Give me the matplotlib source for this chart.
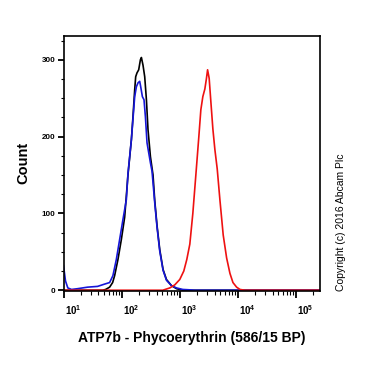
import numpy as np
import matplotlib
matplotlib.use("Agg")
import matplotlib.pyplot as plt
import matplotlib.transforms as mtransforms
from matplotlib.ticker import LogLocator, FixedLocator, MultipleLocator, NullFormatter

plt.rcParams['font.family'] = ['Liberation Sans', 'DejaVu Sans']
plt.rcParams['mathtext.fontset'] = 'custom'
plt.rcParams['mathtext.rm'] = 'Liberation Sans'
plt.rcParams['mathtext.bf'] = 'Liberation Sans:bold'

# isotype control (black)
black_x = [10, 47.2, 53.1, 62.3, 70.2, 76.0, 86.7, 99.2, 113.1, 129.0, 147.7, 157.3,
           168.4, 175.2, 184.5, 197.4, 211.2, 219.8, 234.2, 250.6, 268.1, 285.7,
           314.3, 348.5, 372.9, 408.7, 454.9, 518.8, 593.8, 724.4, 883.6, 1135.5, 262144]
black_y = [0, 0, 1, 4, 10, 19, 40, 66, 95, 150, 196, 226,
           261, 278, 283, 287, 300, 303, 293, 278, 248, 209,
           174, 150, 117, 84, 53, 27, 14, 6, 2, 0, 0]

# unlabelled control (blue)
blue_x = [10, 10.83, 11.87, 13.74, 17.45, 25.97, 38.66, 51.07, 62.3, 71.0, 81.3, 92.7,
          105.7, 121.0, 129.0, 147.7, 168.4, 180.2, 192.0, 205.4, 213.7, 228.6,
          243.7, 257.6, 274.6, 293.8, 314.3, 334.9, 372.9, 408.7, 454.9, 518.8,
          593.8, 724.4, 883.6, 1135.5, 1500, 1828, 262144]
blue_y = [32, 12, 3, 1, 2, 4, 5, 8, 10, 19, 40, 66,
          92, 118, 152, 196, 252, 265, 270, 272, 265, 252,
          248, 226, 192, 179, 166, 155, 114, 82, 51, 26,
          13, 6, 3, 1, 0.5, 0, 0]

# ATP7b stained (red)
red_x = [10, 513, 678, 826, 1007, 1181, 1330, 1500, 1690, 1905, 2145, 2323, 2512,
         2723, 2891, 3034, 3230, 3459, 3742, 4055, 4446, 4943, 5636, 6457,
         7362, 8299, 9597, 10965, 13370, 262144]
red_y = [0, 0, 3, 7, 14, 25, 40, 60, 100, 150, 200, 235, 252,
         262, 275, 287, 276, 245, 210, 183, 158, 118, 72, 42,
         22, 10, 4, 1, 0, 0]

fig = plt.figure(figsize=(3.7, 3.7), dpi=100)
ax = fig.add_axes([63.5 / 370, 1 - 291 / 370, 256.5 / 370, 255 / 370])

ax.plot(black_x, black_y, color='black', lw=1.2)
ax.plot(blue_x, blue_y, color='#1616d8', lw=1.2)
ax.plot(red_x, red_y, color='#ee1111', lw=1.2)

ax.set_xscale('log')
ax.set_xlim(10, 262144)
ax.set_ylim(-1, 331)

ax.xaxis.set_major_locator(FixedLocator([10, 100, 1000, 10000, 100000]))
ax.xaxis.set_minor_locator(LogLocator(base=10, subs=np.arange(2, 10), numticks=20))
ax.xaxis.set_minor_formatter(NullFormatter())
ax.set_xticklabels([r'$\mathbf{10^{%d}}$' % p for p in range(1, 6)])

ax.yaxis.set_major_locator(MultipleLocator(100))
ax.yaxis.set_minor_locator(MultipleLocator(25))

for s in ax.spines.values():
    s.set_linewidth(1.2)

ax.tick_params(axis='x', which='major', direction='out', length=5, width=1.3,
               pad=3.5, labelsize=7)
ax.tick_params(axis='x', which='minor', direction='out', length=2.8, width=0.8)
ax.tick_params(axis='y', which='major', direction='out', length=4.3, width=1.3,
               pad=1.5, labelsize=5.8)
ax.tick_params(axis='y', which='minor', direction='out', length=2.5, width=0.8)
for lab in ax.get_yticklabels():
    lab.set_fontweight('bold')

shift = mtransforms.ScaledTranslation(10 / 100, 0, fig.dpi_scale_trans)
for lab in ax.get_xticklabels():
    lab.set_transform(lab.get_transform() + shift)

ax.set_xlabel('ATP7b - Phycoerythrin (586/15 BP)', fontsize=10, fontweight='bold', va='top')
ax.xaxis.set_label_coords(0.499, -0.157)
ax.set_ylabel('Count', fontsize=10.5, fontweight='bold')
ax.yaxis.set_label_coords(-0.13, 0.502)

fig.text(341 / 370, 1 - 291 / 370, 'Copyright (c) 2016 Abcam Plc', rotation=90,
         ha='center', va='bottom', fontsize=7.5)

fig.savefig('out.png', dpi=100)
